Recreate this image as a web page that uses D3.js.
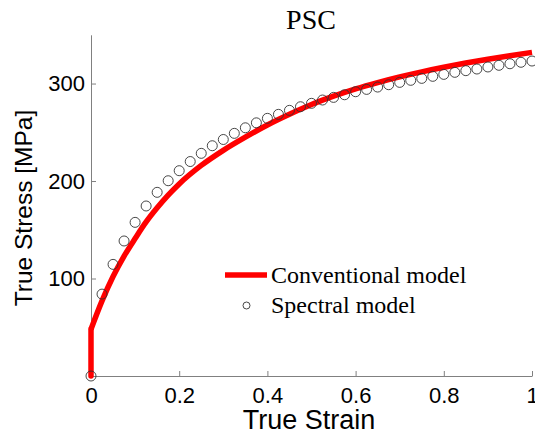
<!DOCTYPE html>
<meta charset="utf-8">
<script src="https://cdn.jsdelivr.net/npm/d3@7"></script>
<style>
  body { margin: 0; background: #fff; }
</style>
<div id="chart"></div>
<script>

// conventional model (red curve)
// first point is the vertical jump at zero strain
var convStrain = [0, 0, 0.025, 0.05, 0.075, 0.1, 0.125, 0.15, 0.175, 0.2, 0.25, 0.3, 0.35, 0.4, 0.45, 0.5, 0.55, 0.6, 0.65, 0.7, 0.75, 0.8, 0.85, 0.9, 0.95, 1.0];
var convStress = [0, 48, 77, 102, 123, 141, 158, 172.5, 185.5, 197, 216, 231.5, 245, 257.5, 268.5, 278.5, 287, 294.5, 301, 306.8, 312, 316.7, 321, 325, 328.6, 332];

// spectral model (circles)
var specStrain = [0, 0.025, 0.05, 0.075, 0.1, 0.125, 0.15, 0.175, 0.2, 0.225, 0.25, 0.275, 0.3, 0.325, 0.35, 0.375, 0.4, 0.425, 0.45, 0.475, 0.5, 0.525, 0.55, 0.575, 0.6, 0.625, 0.65, 0.675, 0.7, 0.725, 0.75, 0.775, 0.8, 0.825, 0.85, 0.875, 0.9, 0.925, 0.95, 0.975, 1.0];
var specStress = [0, 84, 114.5, 138.5, 157.6, 174.4, 188.4, 200.3, 210.6, 220, 228.4, 236.2, 242.6, 248.9, 254.6, 259.7, 264.3, 268.4, 272.5, 276.2, 279.7, 283.1, 285.8, 288.5, 291.6, 294.0, 296.4, 298.8, 301.2, 303.3, 305.3, 307.4, 309.4, 311.5, 313.2, 314.9, 317.0, 318.7, 320.3, 321.8, 323.1];

var xTicks = [0, 0.2, 0.4, 0.6, 0.8, 1];
var yTicks = [100, 200, 300];
var seriesNames = ["Conventional model", "Spectral model"];

var W = 535, H = 436;
var x = d3.scaleLinear().domain([0, 1]).range([91, 532]);
var y = d3.scaleLinear().domain([0, 350]).range([376, 34.8]);

var svg = d3.select("#chart")
  .append("svg")
    .attr("width", W)
    .attr("height", H)
    .style("font-family", "'Liberation Sans', Arial, sans-serif");

// x axis, ticks pointing inward
var gx = svg.append("g")
    .attr("transform", "translate(0," + y(0) + ")")
    .call(d3.axisBottom(x).tickValues(xTicks).tickSizeInner(-5).tickSizeOuter(0).tickPadding(11)
      .tickFormat(function(d) { return String(d); }));
gx.select(".domain").attr("stroke", "#808080");
gx.selectAll(".tick line").attr("stroke", "#808080");
gx.selectAll(".tick text").attr("font-size", 22).attr("fill", "#000").attr("font-family", null);

// y axis
var gy = svg.append("g")
    .attr("transform", "translate(" + x(0) + ",0)")
    .call(d3.axisLeft(y).tickValues(yTicks).tickSizeInner(-5).tickSizeOuter(0).tickPadding(6));
gy.select(".domain").attr("stroke", "#808080");
gy.selectAll(".tick line").attr("stroke", "#808080");
gy.selectAll(".tick text").attr("font-size", 22).attr("fill", "#000").attr("font-family", null);

// axis labels
svg.append("text")
    .attr("x", 309)
    .attr("y", 429)
    .attr("text-anchor", "middle")
    .attr("font-size", 27)
    .text("True Strain");

svg.append("text")
    .attr("transform", "translate(32,208) rotate(-90)")
    .attr("text-anchor", "middle")
    .attr("font-size", 24.5)
    .text("True Stress [MPa]");

// title
svg.append("text")
    .attr("x", 311)
    .attr("y", 29)
    .attr("text-anchor", "middle")
    .attr("font-family", "'Liberation Serif', 'Times New Roman', serif")
    .attr("font-size", 28)
    .text("PSC");

// conventional curve: vertical jump, then smooth hardening curve
var conv = convStrain.map(function(d, i) { return [d, convStress[i]]; });
var line = d3.line()
    .x(function(d) { return x(d[0]); })
    .y(function(d) { return y(d[1]); });

svg.append("path")
    .datum(conv.slice(0, 2))
    .attr("d", line.curve(d3.curveLinear))
    .attr("fill", "none")
    .attr("stroke", "#ff0000")
    .attr("stroke-width", 5.5)
    .attr("stroke-linecap", "round");

svg.append("path")
    .datum(conv.slice(1))
    .attr("d", line.curve(d3.curveMonotoneX))
    .attr("fill", "none")
    .attr("stroke", "#ff0000")
    .attr("stroke-width", 5.5)
    .attr("stroke-linejoin", "round");

// spectral circles
var spec = specStrain.map(function(d, i) { return [d, specStress[i]]; });
svg.append("g")
  .selectAll("circle")
  .data(spec)
  .enter()
  .append("circle")
    .attr("cx", function(d) { return x(d[0]); })
    .attr("cy", function(d) { return y(d[1]); })
    .attr("r", 5)
    .attr("fill", "none")
    .attr("stroke", "#333")
    .attr("stroke-width", 0.9);

// legend
var leg = svg.append("g")
    .attr("font-family", "'Liberation Serif', 'Times New Roman', serif")
    .attr("font-size", 24);

leg.append("line")
    .attr("x1", 225).attr("x2", 267)
    .attr("y1", 275).attr("y2", 275)
    .attr("stroke", "#ff0000")
    .attr("stroke-width", 5.5);
leg.append("text")
    .attr("x", 271).attr("y", 283)
    .text(seriesNames[0]);

leg.append("circle")
    .attr("cx", 246.5).attr("cy", 305.5)
    .attr("r", 3.5)
    .attr("fill", "none")
    .attr("stroke", "#333")
    .attr("stroke-width", 0.9);
leg.append("text")
    .attr("x", 271).attr("y", 313)
    .text(seriesNames[1]);

</script>
